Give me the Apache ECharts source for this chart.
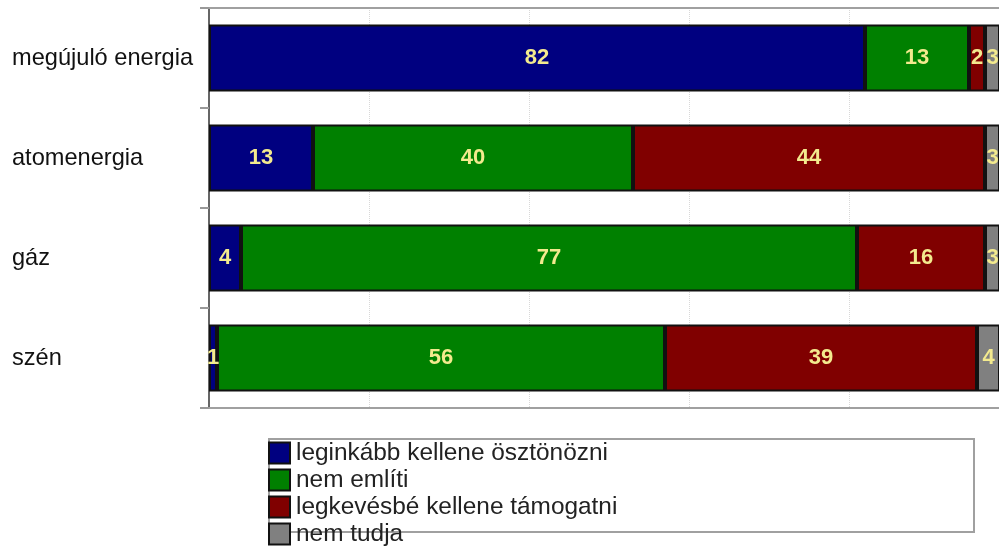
<!DOCTYPE html>
<html>
<head>
<meta charset="utf-8">
<script src="https://cdn.jsdelivr.net/npm/echarts@6/dist/echarts.min.js"></script>
<style>
  html, body { margin: 0; padding: 0; background: #fff; }
  #chart { width: 999px; height: 550px; }
</style>
</head>
<body>
<div id="chart"></div>
<script>
  // kategóriák (felülről lefelé)
  const categories = ['megújuló energia', 'atomenergia', 'gáz', 'szén']
  // sorozatok
  const seriesNames = ['leginkább kellene ösztönözni', 'nem említi', 'legkevésbé kellene támogatni', 'nem tudja']
  const osztonozni = [82, 13, 4, 1]
  const nemEmliti = [13, 40, 77, 56]
  const tamogatni = [2, 44, 16, 39]
  const nemTudja = [3, 3, 3, 4]
  const colors = ['#000080', '#008000', '#800000', '#808080']

  const myChart = echarts.init(document.getElementById('chart'))
  const values = [osztonozni, nemEmliti, tamogatni, nemTudja]

  // a jobb szél levágva: a 100-as tengely kilóg a képből
  const xMax = 98.75

  const option = {
    animation: false,
    textStyle: { fontFamily: 'Liberation Sans, Arial, sans-serif' },
    grid: {
      left: 209,
      top: 8,
      right: 0,
      height: 400
    },
    xAxis: [{
      type: 'value',
      position: 'top',
      min: 0,
      max: xMax,
      interval: 20,
      axisLabel: { show: false },
      axisTick: { show: false },
      axisLine: { show: true, onZero: false, lineStyle: { color: '#a0a0a0', width: 2 } },
      splitLine: { lineStyle: { color: '#d8d8d8', width: 1, type: 'dotted' } }
    }, {
      type: 'value',
      position: 'bottom',
      min: 0,
      max: xMax,
      axisLabel: { show: false },
      axisTick: { show: false },
      axisLine: { show: true, onZero: false, lineStyle: { color: '#a0a0a0', width: 2 } },
      splitLine: { show: false }
    }],
    yAxis: {
      type: 'category',
      data: categories,
      inverse: true,
      axisLine: { lineStyle: { color: '#666666', width: 2 } },
      axisTick: { show: true, length: 9, lineStyle: { color: '#999999', width: 2 } },
      axisLabel: {
        align: 'left',
        margin: 197,
        color: '#111',
        fontSize: 23.6
      }
    },
    legend: {
      orient: 'vertical',
      left: 268,
      top: 441,
      height: 150,
      padding: 0,
      itemGap: 3,
      itemWidth: 21,
      itemHeight: 21,
      icon: 'rect',
      textStyle: { fontSize: 24.4, color: '#222', padding: [0, 0, 0, 1] },
      data: seriesNames
    },
    graphic: [{
      type: 'rect',
      left: 268,
      top: 438,
      z: -1,
      shape: { width: 705, height: 93 },
      style: { fill: '#fff', stroke: '#a0a0a0', lineWidth: 2 }
    }],
    series: seriesNames.map((name, i) => ({
      name: name,
      type: 'bar',
      stack: 'total',
      barCategoryGap: '33%',
      data: values[i],
      itemStyle: { color: colors[i], borderColor: '#111', borderWidth: 2 },
      label: {
        show: true,
        position: 'inside',
        color: '#f3ea8e',
        fontWeight: 'bold',
        fontSize: 22
      }
    }))
  }
  myChart.setOption(option)
</script>
</body>
</html>
